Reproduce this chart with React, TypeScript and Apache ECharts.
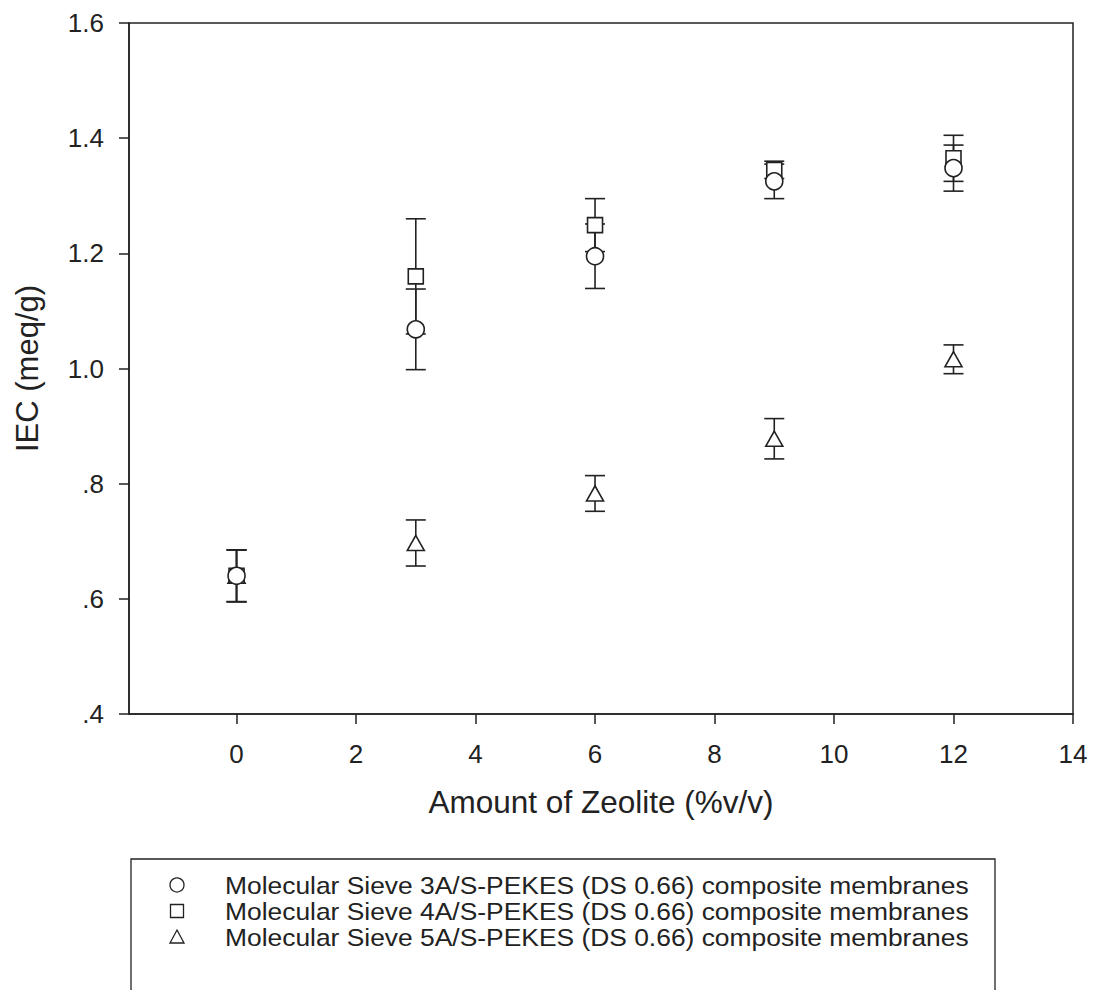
import React, { useEffect, useRef } from "react";
import * as echarts from "echarts";

// ---- data ----
const xValues = [0, 3, 6, 9, 12];
const seriesNames = [
  "Molecular Sieve 3A/S-PEKES (DS 0.66) composite membranes",
  "Molecular Sieve 4A/S-PEKES (DS 0.66) composite membranes",
  "Molecular Sieve 5A/S-PEKES (DS 0.66) composite membranes",
];
const iec3A = [0.64, 1.068, 1.195, 1.325, 1.348];
const err3A = [0.045, 0.07, 0.056, 0.03, 0.04];
const iec4A = [0.64, 1.16, 1.249, 1.345, 1.365];
const err4A = [0.045, 0.1, 0.046, 0.015, 0.04];
const iec5A = [0.64, 0.697, 0.783, 0.878, 1.016];
const err5A = [0.045, 0.04, 0.031, 0.035, 0.025];
const xTickValues = [0, 2, 4, 6, 8, 10, 12, 14];
const xAxisTitle = "Amount of Zeolite (%v/v)";
const yAxisTitle = "IEC (meq/g)";

const INK = "#222";
const FONT = "'Liberation Sans', Arial, Helvetica, sans-serif";

const symbols = ["circle", "rect", "triangle"];
const symbolSizes: any[] = [17, 15, [17, 15]];
const values = [iec3A, iec4A, iec5A];
const errors = [err3A, err4A, err5A];

function errorSeries(vals: number[], errs: number[], name: string) {
  return {
    type: "custom",
    name: name + " error",
    z: 2,
    silent: true,
    encode: { x: 0, y: [1, 2] },
    data: xValues.map((x, i) => [x, vals[i] - errs[i], vals[i] + errs[i]]),
    renderItem: (params: any, api: any) => {
      const x = api.value(0);
      const lo = api.coord([x, api.value(1)]);
      const hi = api.coord([x, api.value(2)]);
      const half = 10;
      const style = { stroke: INK, lineWidth: 1.6 };
      return {
        type: "group",
        children: [
          { type: "line", shape: { x1: lo[0], y1: lo[1], x2: hi[0], y2: hi[1] }, style },
          { type: "line", shape: { x1: lo[0] - half, y1: lo[1], x2: lo[0] + half, y2: lo[1] }, style },
          { type: "line", shape: { x1: hi[0] - half, y1: hi[1], x2: hi[0] + half, y2: hi[1] }, style },
        ],
      };
    },
  };
}

function legendGraphics() {
  const items: any[] = [];
  items.push({
    type: "polyline",
    shape: { points: [[131, 1000], [131, 859], [995, 859], [995, 1000]] },
    style: { stroke: INK, lineWidth: 1.3, fill: null },
  });
  const rowY = [885, 911, 937];
  const mx = 177;
  seriesNames.forEach((name, i) => {
    const y = rowY[i];
    const st = { stroke: INK, lineWidth: 1.3, fill: "#fff" };
    if (symbols[i] === "circle") {
      items.push({ type: "circle", shape: { cx: mx, cy: y, r: 7 }, style: st });
    } else if (symbols[i] === "rect") {
      items.push({ type: "rect", shape: { x: mx - 6.5, y: y - 6.5, width: 13, height: 13 }, style: st });
    } else {
      items.push({
        type: "polygon",
        shape: { points: [[mx, y - 7], [mx + 7, y + 6], [mx - 7, y + 6]] },
        style: st,
      });
    }
    items.push({
      type: "text",
      x: 225,
      y,
      scaleX: 1.1,
      style: {
        text: name,
        fontSize: 24,
        fontFamily: FONT,
        fill: INK,
        verticalAlign: "middle",
        align: "left",
      },
    });
  });
  return items;
}

export default function App() {
  const ref = useRef<HTMLDivElement>(null);
  useEffect(() => {
    if (!ref.current) return;
    const chart = echarts.init(ref.current, null, { renderer: "svg" });
    const scatterSeries = seriesNames.map((name, i) => ({
      type: "scatter",
      name,
      z: 3 + (2 - i),
      symbol: symbols[i],
      symbolSize: symbolSizes[i],
      itemStyle: { color: "#fff", borderColor: INK, borderWidth: 1.6, opacity: 1 },
      data: xValues.map((x, j) => [x, values[i][j]]),
    }));
    const errSeries = seriesNames.map((name, i) => errorSeries(values[i], errors[i], name));
    chart.setOption({
      animation: false,
      backgroundColor: "#fff",
      textStyle: { fontFamily: FONT, color: INK },
      grid: {
        left: 129,
        top: 23,
        right: 20,
        bottom: 276,
        show: true,
        borderColor: INK,
        borderWidth: 1.5,
        backgroundColor: "transparent",
      },
      xAxis: {
        type: "value",
        min: -1.8,
        max: 14,
        name: xAxisTitle,
        nameLocation: "middle",
        nameGap: 72,
        nameTextStyle: { fontSize: 31.5, fontFamily: FONT, color: INK },
        axisLine: { show: true, onZero: false, lineStyle: { color: INK, width: 1.5 } },
        axisTick: { show: true, inside: false, length: 10, customValues: xTickValues, lineStyle: { color: INK, width: 1.5 } },
        axisLabel: {
          show: true,
          customValues: xTickValues,
          margin: 27,
          fontSize: 26,
          fontFamily: FONT,
          color: INK,
        },
        splitLine: { show: false },
      },
      yAxis: {
        type: "value",
        min: 0.4,
        max: 1.6,
        interval: 0.2,
        name: yAxisTitle,
        nameLocation: "middle",
        nameRotate: 90,
        nameGap: 86,
        nameTextStyle: { fontSize: 31, fontFamily: FONT, color: INK },
        axisLine: { show: true, onZero: false, lineStyle: { color: INK, width: 1.5 } },
        axisTick: { show: true, inside: false, length: 10, lineStyle: { color: INK, width: 1.5 } },
        axisLabel: {
          margin: 25,
          fontSize: 26,
          fontFamily: FONT,
          color: INK,
          formatter: (v: number) => {
            const s = (Math.round(v * 10) / 10).toFixed(1);
            return v < 1 ? s.replace(/^0/, "") : s;
          },
        },
        splitLine: { show: false },
      },
      series: [...errSeries, ...scatterSeries],
      graphic: legendGraphics(),
    });
    return () => chart.dispose();
  }, []);
  return (
    <div
      ref={ref}
      style={{ position: "fixed", left: 0, top: 0, width: 1093, height: 990, background: "#fff" }}
    />
  );
}
